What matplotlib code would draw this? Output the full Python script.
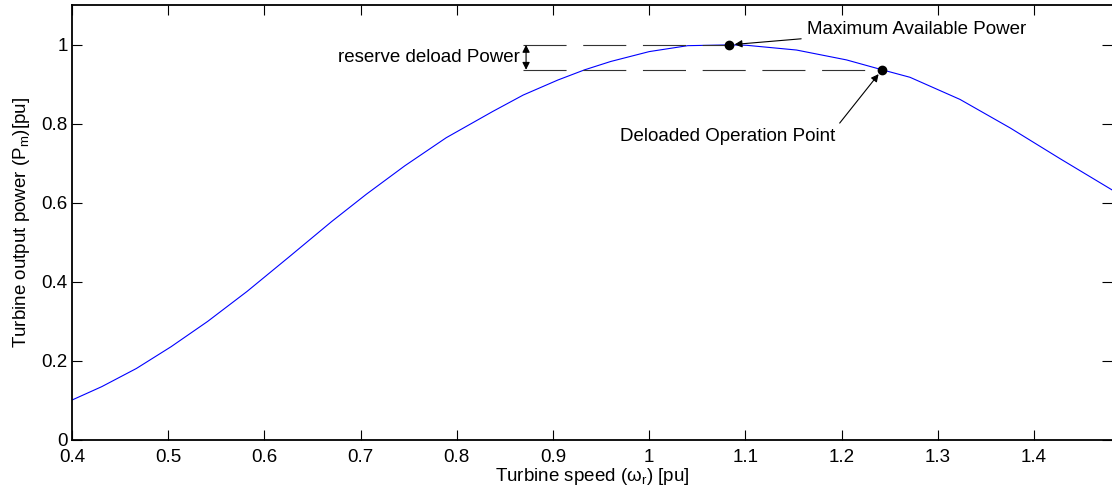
import numpy as np
import matplotlib
matplotlib.use('Agg')
import matplotlib.pyplot as plt

plt.rcParams['font.family'] = ['Liberation Sans', 'DejaVu Sans']
plt.rcParams['mathtext.fontset'] = 'custom'
plt.rcParams['mathtext.rm'] = 'Liberation Sans'
plt.rcParams['mathtext.it'] = 'Liberation Sans'
plt.rcParams['lines.scale_dashes'] = False

# values
speed = [0.400, 0.431, 0.467, 0.503, 0.541, 0.582, 0.626, 0.670, 0.706, 0.746,
         0.789, 0.837, 0.869, 0.905, 0.933, 0.960, 1.000, 1.040, 1.083, 1.101,
         1.153, 1.205, 1.242, 1.271, 1.323, 1.375, 1.427, 1.481]
power = [0.101, 0.135, 0.181, 0.236, 0.300, 0.376, 0.464, 0.553, 0.622, 0.694,
         0.765, 0.831, 0.873, 0.911, 0.937, 0.958, 0.983, 0.998, 1.000, 0.999,
         0.987, 0.962, 0.937, 0.918, 0.862, 0.790, 0.712, 0.633]

p_max = (1.083, 1.000)
p_del = (1.242, 0.937)
x_dash = 0.869
x_arr = 0.872

xticks = [0.4, 0.5, 0.6, 0.7, 0.8, 0.9, 1, 1.1, 1.2, 1.3, 1.4]
xtick_labels = ['0.4', '0.5', '0.6', '0.7', '0.8', '0.9', '1', '1.1', '1.2', '1.3', '1.4']
yticks = [0, 0.2, 0.4, 0.6, 0.8, 1]
ytick_labels = ['0', '0.2', '0.4', '0.6', '0.8', '1']

fs = 13.5

fig = plt.figure(figsize=(11.12, 4.88), dpi=100)
ax = fig.add_axes([0.0647, 0.0984, 0.9353, 0.8914])

ax.plot(speed, power, color='#0000ff', lw=0.8)

dash = (31, 12)
ax.plot([x_dash, p_max[0]], [p_max[1], p_max[1]], color='0.2', lw=0.8, dashes=dash)
ax.plot([x_dash, p_del[0]], [p_del[1], p_del[1]], color='0.2', lw=0.8, dashes=dash)
ax.plot([p_max[0], p_del[0]], [p_max[1], p_del[1]], 'o', color='k', ms=6)

ax.annotate('', xy=(x_arr, p_max[1]), xytext=(x_arr, p_del[1]),
            arrowprops=dict(arrowstyle='<|-|>', color='k', lw=0.8, mutation_scale=11,
                            shrinkA=0, shrinkB=0))
ax.text(x_arr - 0.006, 0.967, 'reserve deload Power', ha='right', va='center', fontsize=fs)

ax.annotate('Maximum Available Power', xy=p_max, xytext=(1.1637, 1.04),
            ha='left', va='center', fontsize=fs,
            arrowprops=dict(arrowstyle='-|>', color='k', lw=0.8, mutation_scale=11,
                            shrinkA=2, shrinkB=4))
ax.annotate('Deloaded Operation Point', xy=p_del, xytext=(1.082, 0.768),
            ha='center', va='center', fontsize=fs,
            arrowprops=dict(arrowstyle='-|>', color='k', lw=0.8, mutation_scale=11,
                            shrinkA=2, shrinkB=4, relpos=(1.0, 1.0)))

ax.set_xlim(0.4, 1.481)
ax.set_ylim(0, 1.101)
ax.set_xticks(xticks)
ax.set_xticklabels(xtick_labels)
ax.set_yticks(yticks)
ax.set_yticklabels(ytick_labels)
ax.tick_params(direction='in', length=7, width=0.8, labelsize=fs, top=True, right=True)
ax.tick_params(axis='x', pad=6.5)
ax.tick_params(axis='y', pad=3)
ax.spines['right'].set_visible(False)
for s in ['left', 'bottom', 'top']:
    ax.spines[s].set_linewidth(1.3)

ax.set_xlabel('Turbine speed (ω$_\\mathrm{r}$) [pu]', fontsize=fs, labelpad=0)
ax.set_ylabel('Turbine output power (P$_\\mathrm{m}$)[pu]', fontsize=fs, labelpad=7)

fig.savefig('out.png', dpi=100)
